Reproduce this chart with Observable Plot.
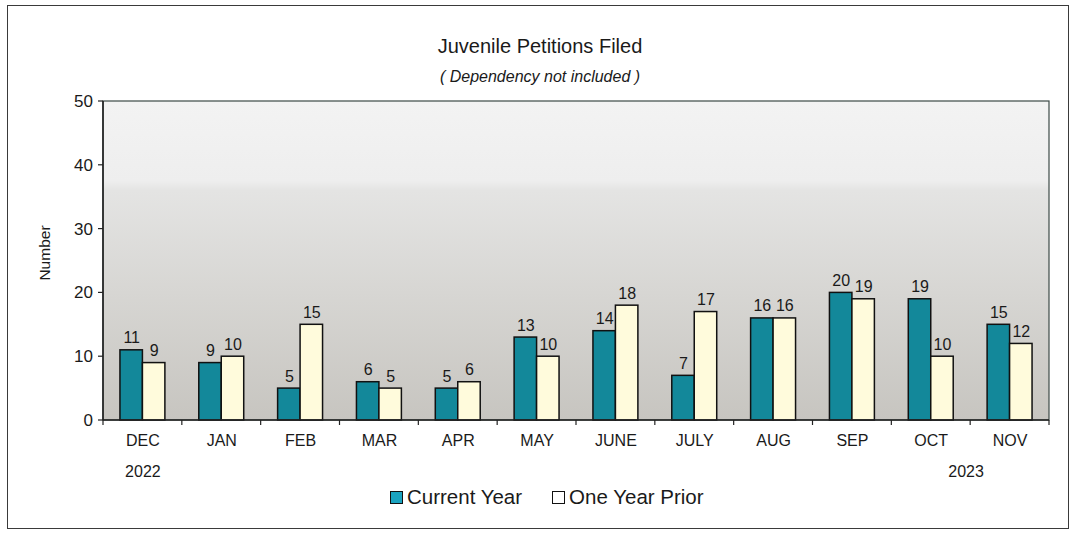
<!DOCTYPE html>
<html>
<head>
<meta charset="utf-8">
<script src="https://cdn.jsdelivr.net/npm/d3@7"></script>
<script src="https://cdn.jsdelivr.net/npm/@observablehq/plot@0.6"></script>
<style>
  html, body { margin: 0; padding: 0; background: #ffffff; }
  body { font-family: "Liberation Sans", Arial, sans-serif; color: #1a1a1a; }
  #wrap { position: relative; width: 1076px; height: 533px; overflow: hidden; }
  #border { position: absolute; left: 7px; top: 5px; width: 1062px; height: 524px; border: 1.5px solid #3a3a3a; box-sizing: border-box; }
  #title { position: absolute; left: 0; width: 1080px; top: 35px; text-align: center; font-size: 20px; }
  #subtitle { position: absolute; left: 0; width: 1080px; top: 68px; text-align: center; font-size: 16px; font-style: italic; }
  #chart { position: absolute; left: 0; top: 0; }
  #ylabel { position: absolute; left: 45px; top: 253px; transform: translate(-50%, -50%) rotate(-90deg); font-size: 15.5px; white-space: nowrap; }
  #legend { position: absolute; top: 485px; left: 390px; font-size: 20.5px; display: flex; align-items: center; }
  .item { display: flex; align-items: center; margin-right: 30px; }
  .sw { width: 13px; height: 13px; border: 1.5px solid #111; box-sizing: border-box; margin-right: 4px; }
</style>
</head>
<body>
<div id="wrap">
  <div id="border"></div>
  <div id="chart"></div>
  <div id="title">Juvenile Petitions Filed</div>
  <div id="subtitle">( Dependency not included )</div>
  <div id="ylabel">Number</div>
  <div id="legend"></div>
</div>
<script>
const months = ["DEC", "JAN", "FEB", "MAR", "APR", "MAY", "JUNE", "JULY", "AUG", "SEP", "OCT", "NOV"];
const currentYear = [11, 9, 5, 6, 5, 13, 14, 7, 16, 20, 19, 15];
const priorYear = [9, 10, 15, 5, 6, 10, 18, 17, 16, 19, 10, 12];
const seriesNames = ["Current Year", "One Year Prior"];
const seriesColors = ["#13889a", "#fffbdc"];
const yTicks = [0, 10, 20, 30, 40, 50];
const yearMonths = ["DEC", "NOV"];
const yearTexts = ["2022", "2023"];

const data = [];
months.forEach((m, i) => {
  data.push({month: m, series: seriesNames[0], value: currentYear[i]});
  data.push({month: m, series: seriesNames[1], value: priorYear[i]});
});
const years = yearMonths.map((m, i) => ({month: m, year: yearTexts[i]}));

const plot = Plot.plot({
  width: 1076,
  height: 480,
  marginLeft: 103,
  marginRight: 27,
  marginTop: 101,
  marginBottom: 60,
  style: {fontFamily: "'Liberation Sans', Arial, sans-serif", fontSize: "16px", color: "#1a1a1a", background: "transparent", overflow: "visible"},
  fx: {domain: months, paddingInner: 0.43, paddingOuter: 0.215, round: false, label: null, tickSize: 0, tickPadding: 14},
  x: {domain: seriesNames, padding: 0, round: false, axis: null},
  y: {domain: [0, 50], ticks: yTicks, axis: null},
  color: {domain: seriesNames, range: seriesColors},
  marks: [
    Plot.barY(data, {fx: "month", x: "series", y: "value", fill: "series", stroke: "#111", strokeWidth: 1.5}),
    Plot.text(data, {fx: "month", x: "series", y: "value", text: d => String(d.value), lineAnchor: "bottom", dy: -7, fontSize: 16, fill: "#1a1a1a"}),
    Plot.text(years.filter(d => d.year === "2022"), {fx: "month", text: "year", frameAnchor: "bottom", dy: 56, fontSize: 16, fill: "#1a1a1a"}),
    Plot.text(years.filter(d => d.year === "2023"), {fx: "month", text: "year", frameAnchor: "bottom", dy: 56, dx: -44, fontSize: 16, fill: "#1a1a1a"})
  ]
});

// background panel, frame, y axis and boundary ticks drawn from the plot's own scales
const fx = plot.scale("fx");
const ys = plot.scale("y");
const x0 = fx.range[0], x1 = fx.range[1];
const yTop = ys.apply(50), yBot = ys.apply(0);
const svg = d3.select(plot);
const defs = svg.insert("defs", ":first-child");
const grad = defs.append("linearGradient").attr("id", "plotBg").attr("x1", 0).attr("y1", 0).attr("x2", 0).attr("y2", 1);
[[0, "#f3f3f3"], [0.25, "#eeeeee"], [0.28, "#e4e4e3"], [0.6, "#d7d6d3"], [1, "#c7c5c0"]].forEach(([o, c]) =>
  grad.append("stop").attr("offset", o).attr("stop-color", c));
const bgG = svg.insert("g", "defs + *");
bgG.append("rect").attr("x", x0).attr("y", yTop).attr("width", x1 - x0).attr("height", yBot - yTop)
  .attr("fill", "url(#plotBg)").attr("stroke", "#3c4a46").attr("stroke-width", 1.2);
bgG.append("line").attr("x1", x0).attr("x2", x0).attr("y1", yTop).attr("y2", yBot).attr("stroke", "#222").attr("stroke-width", 1.6);

const axG = svg.append("g").attr("stroke", "#222").attr("stroke-width", 1.2);
const gap = fx.step - fx.bandwidth;
const bounds = months.map(m => fx.apply(m) - gap / 2).concat([fx.apply(months[months.length - 1]) + fx.bandwidth + gap / 2]);
bounds.forEach(b => axG.append("line").attr("x1", b).attr("x2", b).attr("y1", yBot).attr("y2", yBot + 5));
axG.append("line").attr("x1", x0).attr("x2", x1).attr("y1", yBot).attr("y2", yBot).attr("stroke-width", 1.6);
yTicks.forEach(t => {
  const yy = ys.apply(t);
  axG.append("line").attr("x1", x0 - 5).attr("x2", x0).attr("y1", yy).attr("y2", yy);
  svg.append("text").attr("x", x0 - 10).attr("y", yy).attr("dy", "0.35em").attr("text-anchor", "end")
    .attr("font-size", 17).attr("fill", "#1a1a1a").attr("font-family", "'Liberation Sans', Arial, sans-serif").text(t);
});

document.getElementById("chart").appendChild(plot);

const legend = document.getElementById("legend");
seriesNames.forEach((s, i) => {
  const item = document.createElement("div");
  item.className = "item";
  const sw = document.createElement("div");
  sw.className = "sw";
  sw.style.background = i === 0 ? "#1aa3c0" : "#ffffff";
  const t = document.createElement("span");
  t.textContent = s;
  item.appendChild(sw); item.appendChild(t);
  legend.appendChild(item);
});
</script>
</body>
</html>
